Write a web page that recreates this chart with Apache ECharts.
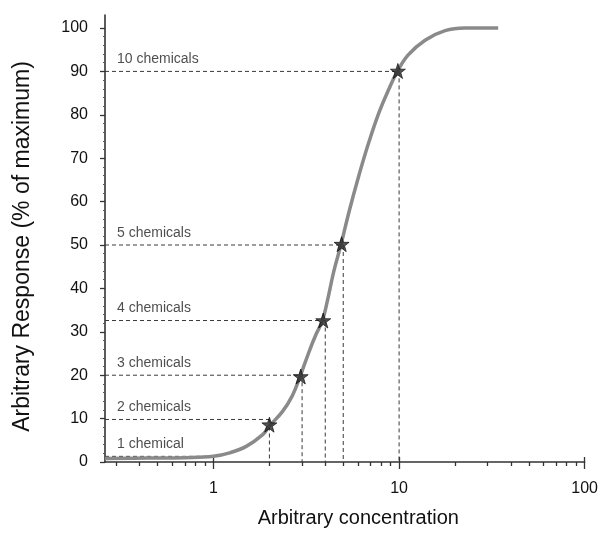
<!DOCTYPE html>
<html>
<head>
<meta charset="utf-8">
<script src="https://cdn.jsdelivr.net/npm/echarts@6/dist/echarts.min.js"></script>
<style>
html,body{margin:0;padding:0;background:#fff;}
#c{width:601px;height:533px;}
</style>
</head>
<body>
<div id="c"></div>
<script>
// ---- data ----
const curveX = [0.26, 0.44, 0.7, 1.0, 1.22, 1.5, 1.84, 2.0, 2.35, 2.66, 2.92, 3.27, 3.55, 3.86, 4.1, 4.45, 4.87, 5.36, 6.06, 6.86, 7.77, 8.78, 9.82, 11.2, 13.8, 17.7, 22.6, 34.2];
const curveY = [0.8, 0.9, 1.0, 1.3, 2.1, 3.6, 6.3, 8.3, 11.6, 15.3, 19.6, 25.4, 29.2, 32.6, 37.0, 44.0, 50.2, 57.5, 65.9, 73.6, 80.4, 85.8, 90.1, 93.8, 97.2, 99.4, 100, 100];

const starX = [2, 2.95, 3.9, 4.9, 9.85];
const starY = [8.6, 19.7, 32.6, 50.2, 90.1];

const guideLabels = ['1 chemical', '2 chemicals', '3 chemicals', '4 chemicals', '5 chemicals', '10 chemicals'];
const guideX = [1, 2, 3, 4, 5, 10];
const guideY = [1.3, 9.8, 20, 32.6, 50, 90];
const guideHasDrop = [false, true, true, true, true, true];

const xMin = 0.26, xMax = 100;
const yMin = 0, yMax = 103;
const xMajorTicks = [1, 10, 100];
const xMinorTicks = [0.3, 0.4, 0.5, 0.6, 0.7, 0.8, 0.9, 2, 3, 4, 5, 6, 7, 8, 9, 20, 30, 40, 50, 60, 70, 80, 90];
const yMajorTicks = [0, 10, 20, 30, 40, 50, 60, 70, 80, 90, 100];
const yMinorTicks = [];
for (const t of [2,4,6,8]) for (let b = 0; b < 100; b += 10) yMinorTicks.push(b + t);

const xTitle = 'Arbitrary concentration';
const yTitle = 'Arbitrary Response (% of maximum)';

// ---- chart ----
const FONT = "'Liberation Sans', Arial, sans-serif";
const AXIS_COLOR = '#333';
const STAR = 'path://M50,0 L61.8,35.1 L98.9,35.5 L69.1,57.6 L80.2,93.1 L50,71.5 L19.8,93.1 L30.9,57.6 L1.1,35.5 L38.2,35.1 Z';

const series = [];
guideX.forEach((gx, i) => {
  series.push({
    type: 'line', xAxisIndex: 0, yAxisIndex: 0, silent: true, symbol: 'none', z: 2,
    data: [[xMin, guideY[i]], [gx, guideY[i]]],
    lineStyle: { color: '#3a3a3a', width: 1, type: [4, 3] }
  });
  if (guideHasDrop[i]) {
    series.push({
      type: 'line', xAxisIndex: 0, yAxisIndex: 0, silent: true, symbol: 'none', z: 2,
      data: [[gx, guideY[i]], [gx, 0]],
      lineStyle: { color: '#3a3a3a', width: 1, type: [4, 3] }
    });
  }
});
series.push({
  type: 'scatter', xAxisIndex: 0, yAxisIndex: 0, silent: true, symbolSize: 0, z: 5,
  data: guideLabels.map((t, i) => ({ value: [xMin, guideY[i]], name: t })),
  label: {
    show: true, position: [12, -12], align: 'left', verticalAlign: 'middle',
    formatter: p => p.name, color: '#222', fontFamily: FONT, fontSize: 14
  }
});
series.push({
  type: 'line', xAxisIndex: 0, yAxisIndex: 0, silent: true, symbol: 'none', z: 3,
  smooth: 0.4,
  data: curveX.map((x, i) => [x, curveY[i]]),
  lineStyle: { color: '#8a8a8a', width: 3.5 }
});
series.push({
  type: 'scatter', xAxisIndex: 0, yAxisIndex: 0, silent: true, z: 6,
  symbol: STAR, symbolSize: 15,
  data: starX.map((x, i) => [x, starY[i]]),
  itemStyle: { color: '#2b2b2b', borderColor: '#000', borderWidth: 0.8 }
});

const option = {
  backgroundColor: '#fff',
  animation: false,
  grid: { left: 105, right: 15, top: 15, bottom: 69 },
  xAxis: [
    {
      type: 'log', logBase: 10, min: xMin, max: xMax,
      name: xTitle, nameLocation: 'middle', nameGap: 46,
      nameTextStyle: { fontFamily: FONT, fontSize: 20, color: '#111', padding: [0, 0, 0, 27] },
      axisLine: { show: true, onZero: false, lineStyle: { color: AXIS_COLOR, width: 1.6 } },
      axisTick: { show: true, customValues: xMajorTicks, length: 7, inside: false, lineStyle: { color: AXIS_COLOR, width: 1.3 } },
      axisLabel: { customValues: xMajorTicks, margin: 19, fontFamily: FONT, fontSize: 16, color: '#111' },
      splitLine: { show: false }, minorTick: { show: false }
    },
    {
      type: 'log', logBase: 10, min: xMin, max: xMax, position: 'bottom',
      axisLine: { show: false, onZero: false },
      axisTick: { show: true, customValues: xMajorTicks, length: 5, inside: true, lineStyle: { color: AXIS_COLOR, width: 1.3 } },
      axisLabel: { show: false }, splitLine: { show: false }
    },
    {
      type: 'log', logBase: 10, min: xMin, max: xMax, position: 'bottom',
      axisLine: { show: false, onZero: false },
      axisTick: { show: true, customValues: xMinorTicks, length: 4, inside: false, lineStyle: { color: AXIS_COLOR, width: 1.3 } },
      axisLabel: { show: false }, splitLine: { show: false }
    }
  ],
  yAxis: [
    {
      type: 'value', min: yMin, max: yMax,
      name: yTitle, nameLocation: 'middle', nameGap: 71, nameRotate: 90,
      nameTextStyle: { fontFamily: FONT, fontSize: 23, color: '#111', padding: [0, 16, 0, 0] },
      axisLine: { show: true, onZero: false, lineStyle: { color: AXIS_COLOR, width: 1.6 } },
      axisTick: { show: true, customValues: yMajorTicks, length: 5, lineStyle: { color: AXIS_COLOR, width: 1.3 } },
      axisLabel: { customValues: yMajorTicks, margin: 17, fontFamily: FONT, fontSize: 16, color: '#111' },
      splitLine: { show: false }
    },
    {
      type: 'value', min: yMin, max: yMax, position: 'left',
      axisLine: { show: false, onZero: false },
      axisTick: { show: true, customValues: yMinorTicks, length: 2, lineStyle: { color: '#555', width: 1 } },
      axisLabel: { show: false }, splitLine: { show: false }
    }
  ],
  series: series
};

const chart = echarts.init(document.getElementById('c'), null, { renderer: 'canvas' });
chart.setOption(option);
</script>
</body>
</html>
